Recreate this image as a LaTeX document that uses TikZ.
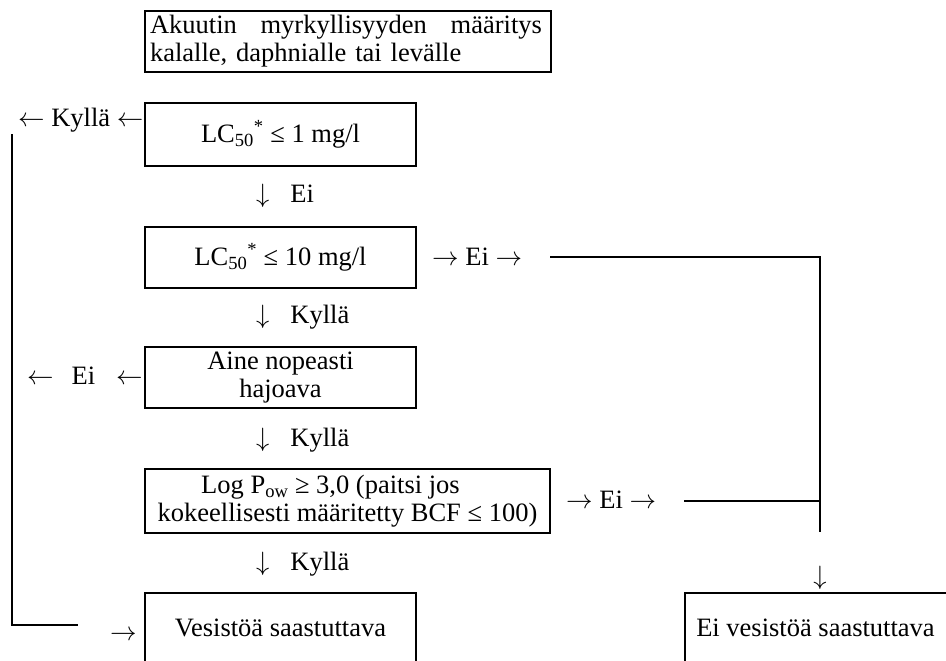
\RequirePackage{fix-cm}
\documentclass[tikz,border=0pt]{standalone}
\usepackage{fontspec}
\setmainfont{Liberation Serif}
\tikzset{
  flowbox/.style={draw, line width=2pt, inner sep=0pt, align=center},
  openbox/.style={draw=none, inner sep=0pt, align=center},
  frame/.style={line width=2pt},
  lbl/.style={inner sep=0pt, anchor=base west},
}
\begin{document}
\begin{tikzpicture}[x=1pt,y=-1pt,font=\fontsize{26.5}{28}\selectfont]
\useasboundingbox (0,0) rectangle (946,661);
\clip (0,0) rectangle (946,661);
\fill[white] (0,0) rectangle (946,661);
% boxes
\node[flowbox, minimum width=406, minimum height=61, text width=396pt, align=left] (top) at (348,41.5)
  {\hbox to 392pt{Akuutin\hfill myrkyllisyyden\hfill määritys}\\kalalle, daphnialle tai levälle};
\node[flowbox, minimum width=271, minimum height=63] (b2) at (280.5,134.5)
  {LC\textsubscript{50}\textsuperscript{*} ≤ 1 mg/l};
\node[flowbox, minimum width=271, minimum height=61] (b3) at (280.5,257.5)
  {LC\textsubscript{50}\textsuperscript{*} ≤ 10 mg/l};
\node[flowbox, minimum width=271, minimum height=61] (b4) at (280.5,377.5)
  {Aine nopeasti\\hajoava};
\node[flowbox, minimum width=405, minimum height=64] (b5) at (347.5,501)
  {\hspace*{-34pt}Log P\textsubscript{ow} ≥ 3,0 (paitsi jos\\kokeellisesti määritetty BCF ≤ 100)};
\node[openbox, minimum width=271, minimum height=70] (b6) at (280.5,628) {Vesistöä saastuttava};
\draw[frame] (b6.south west) -- (b6.north west) -- (b6.north east) -- (b6.south east);
\node[openbox, minimum width=261, minimum height=70] (b7) at (815.5,628) {Ei vesistöä saastuttava};
\draw[frame] (b7.south west) -- (b7.north west) -- ([xshift=10pt]b7.north east);
% arrow labels
\node[lbl] (k1) at (18,127) {$\leftarrow$ Kyllä $\leftarrow$};
\node[lbl] (e2) at (27,384) {$\leftarrow$\hspace{18pt}Ei\hspace{21pt}$\leftarrow$};
\node[lbl] (d1) at (256,202) {$\downarrow$\hspace{21pt}Ei};
\node[lbl] (d2) at (256,323) {$\downarrow$\hspace{21pt}Kyllä};
\node[lbl] (d3) at (256,446) {$\downarrow$\hspace{21pt}Kyllä};
\node[lbl] (d4) at (256,570) {$\downarrow$\hspace{21pt}Kyllä};
\node[lbl] (e1) at (432,265) {$\rightarrow$ Ei $\rightarrow$};
\node[lbl] (e3) at (566,508) {$\rightarrow$ Ei $\rightarrow$};
\node[inner sep=0pt, anchor=base] (dr) at (820,584) {$\downarrow$};
\node[lbl] (ab) at (110,640) {$\rightarrow$};
% lines
\coordinate (L1) at (12,134);
\coordinate (L3) at (78,625);
\draw[frame] (L1) |- (L3);
\coordinate (R1) at (550,257);
\coordinate (R2) at (820,257);
\coordinate (R3) at (820,532);
\coordinate (R4) at (684,501);
\draw[frame] (R1) -- (R2) -- (R3);
\draw[frame] (R4) -- (R4 -| R2);
\end{tikzpicture}
\end{document}
